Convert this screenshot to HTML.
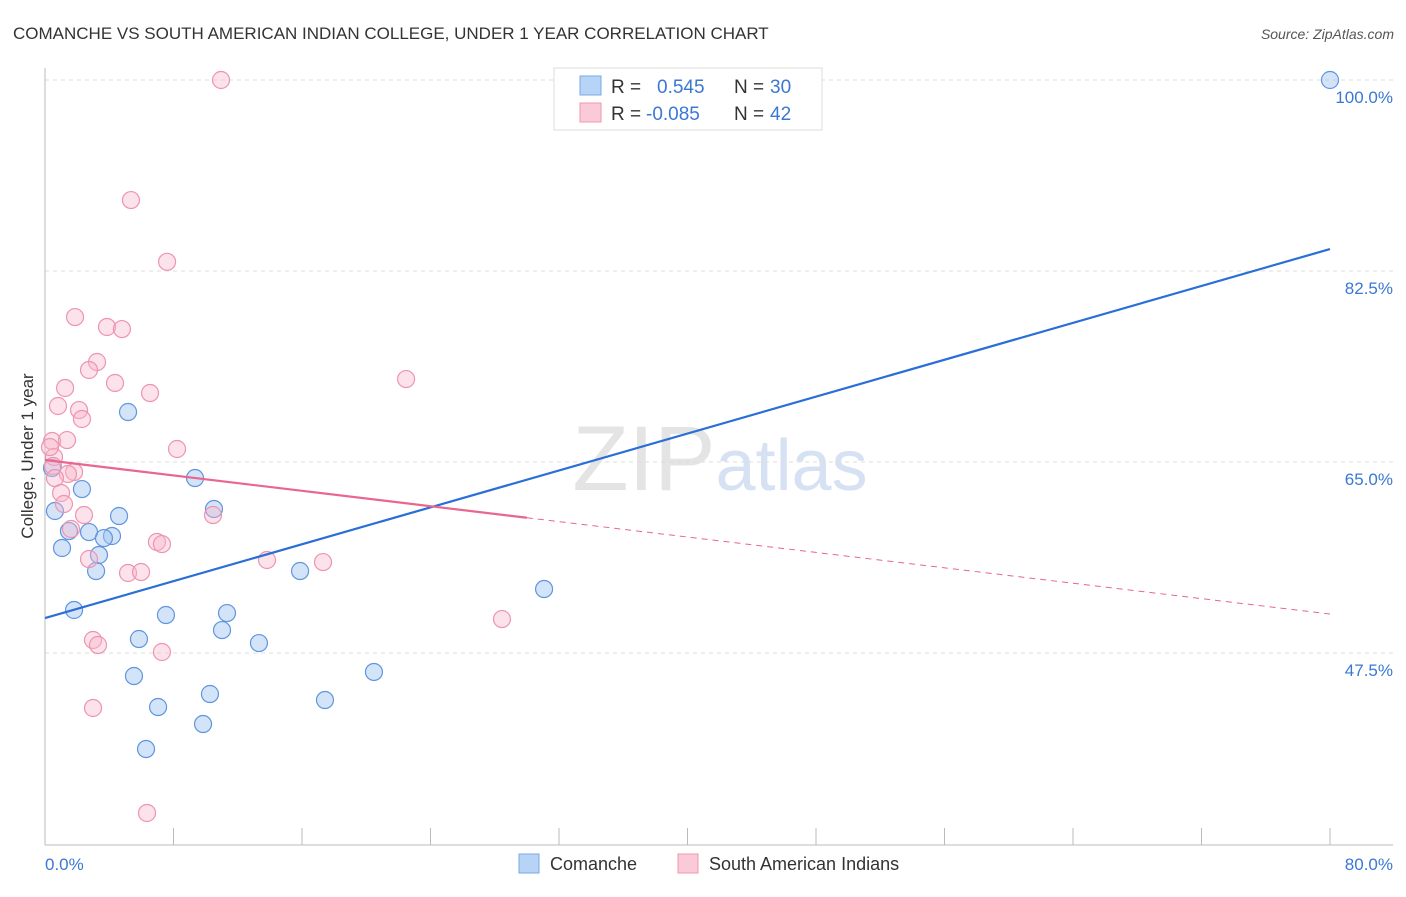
<!DOCTYPE html>
<html><head><meta charset="utf-8"><style>
body{margin:0;background:#fff;font-family:"Liberation Sans",sans-serif}
svg text{font-family:"Liberation Sans",sans-serif}
</style></head><body>
<svg id="chart" width="1406" height="892" xmlns="http://www.w3.org/2000/svg">
<text x="13" y="39" font-size="17" fill="#333">COMANCHE VS SOUTH AMERICAN INDIAN COLLEGE, UNDER 1 YEAR CORRELATION CHART</text>
<text x="1394" y="39" font-size="14" fill="#555" text-anchor="end" font-style="italic">Source: ZipAtlas.com</text>
<text x="720" y="490" font-size="92" fill="#e4e4e4" text-anchor="middle" font-family="Liberation Serif"><tspan>ZIP</tspan><tspan fill="#d6e2f3" font-family="Liberation Sans" font-size="72">atlas</tspan></text>
<g id="grid"></g>
<g id="axes"></g>
<g id="points"></g>
<g id="trends"></g>
<text transform="translate(33,456) rotate(-90)" font-size="17" fill="#333" text-anchor="middle">College, Under 1 year</text>
<text x="45" y="870" font-size="17" fill="#3a78d4">0.0%</text>
<text x="1393" y="870" font-size="17" fill="#3a78d4" text-anchor="end">80.0%</text>
<g>
<rect x="554" y="68" width="268" height="62" fill="#fff" stroke="#ddd"/>
<rect x="580" y="76" width="21" height="19" fill="#b7d3f5" stroke="#7aa8e6"/>
<rect x="580" y="103" width="21" height="19" fill="#fbcad8" stroke="#f096b2"/>
<text x="611" y="93" font-size="19" fill="#333">R =</text>
<text x="657" y="93" font-size="19" fill="#3a78d4">0.545</text>
<text x="734" y="93" font-size="19" fill="#333">N =</text>
<text x="770" y="93" font-size="19" fill="#3a78d4">30</text>
<text x="611" y="120" font-size="19" fill="#333">R =</text>
<text x="646" y="120" font-size="19" fill="#3a78d4">-0.085</text>
<text x="734" y="120" font-size="19" fill="#333">N =</text>
<text x="770" y="120" font-size="19" fill="#3a78d4">42</text>
</g>
<g>
<rect x="519" y="854" width="20" height="19" fill="#b7d3f5" stroke="#7aa8e6"/>
<text x="550" y="870" font-size="18" fill="#333">Comanche</text>
<rect x="678" y="854" width="20" height="19" fill="#fbcad8" stroke="#f096b2"/>
<text x="709" y="870" font-size="18" fill="#333">South American Indians</text>
</g>
</svg>
<script>
const yTicks=[100,82.5,65,47.5];
const yTickLabels=["100.0%","82.5%","65.0%","47.5%"];
const xTicks=[0,8,16,24,32,40,48,56,64,72,80];
const comancheX=[80,5.17,9.34,2.30,0.62,10.52,4.61,1.49,2.74,4.17,3.67,1.06,3.36,3.18,15.88,31.07,1.81,7.53,11.33,11.02,5.85,13.32,20.48,5.54,10.27,17.43,7.04,9.84,6.29,0.44];
const comancheY=[100,69.58,63.53,62.52,60.51,60.69,60.05,58.67,58.58,58.22,58.03,57.12,56.48,55.01,55.01,53.36,51.44,50.98,51.16,49.60,48.78,48.41,45.76,45.39,43.74,43.19,42.55,40.99,38.70,64.45];
const saiX=[10.96,5.35,7.60,1.87,3.86,4.79,3.24,2.74,4.36,1.25,6.54,22.48,0.81,2.12,2.30,0.44,1.37,8.22,0.56,0.50,1.81,1.43,0.62,1.00,1.18,2.43,10.46,1.62,6.97,7.28,2.74,13.82,17.31,5.17,5.98,28.45,2.99,3.30,7.28,2.99,6.35,0.31];
const saiY=[100,89.0,83.34,78.28,77.37,77.18,74.16,73.43,72.24,71.78,71.32,72.60,70.13,69.76,68.94,66.92,67.01,66.19,65.46,64.63,64.08,63.90,63.53,62.16,61.15,60.14,60.14,58.86,57.67,57.48,56.11,56.02,55.83,54.83,54.92,50.61,48.69,48.23,47.59,42.46,32.84,66.37];
const comancheTrend=[50.70,84.51];
const saiTrend=[65.18,51.07];
const saiSolidEnd=30;

const NS="http://www.w3.org/2000/svg";
const X=v=>45+v/80*1285;
const Y=v=>80+(100-v)/100*1091.4;
function mk(tag,attrs,parent){const e=document.createElementNS(NS,tag);for(const k in attrs)e.setAttribute(k,attrs[k]);parent.appendChild(e);return e;}
const grid=document.getElementById('grid'),axes=document.getElementById('axes'),pts=document.getElementById('points'),tr=document.getElementById('trends');
yTicks.forEach((t,i)=>{
 const l=mk('line',{x1:45,x2:1393,y1:Y(t),y2:Y(t),stroke:'#ddd','stroke-dasharray':'4,4'},grid);
 
 
 const tx=mk('text',{x:1393,y:Y(t)+23,'font-size':17,fill:'#3a78d4','text-anchor':'end'},grid);
 tx.textContent=yTickLabels[i];
 
 
});
const ax=mk('line',{x1:45,x2:45,y1:68,y2:845,stroke:'#bbb'},axes);


const bx=mk('line',{x1:45,x2:1393,y1:845,y2:845,stroke:'#bbb'},axes);


xTicks.forEach(t=>{
 const l=mk('line',{x1:X(t),x2:X(t),y1:828,y2:845,stroke:'#bbb'},axes);
 
 
});
comancheX.forEach((v,i)=>{
 const c=mk('circle',{cx:X(v),cy:Y(comancheY[i]),r:8.5,fill:'rgba(160,196,240,0.45)',stroke:'#5f95df','stroke-width':1.2},pts);
 
 
});
saiX.forEach((v,i)=>{
 const c=mk('circle',{cx:X(v),cy:Y(saiY[i]),r:8.5,fill:'rgba(248,182,202,0.4)',stroke:'#ee94b0','stroke-width':1.2},pts);
 
 
});
const bl=mk('line',{x1:X(0),y1:Y(comancheTrend[0]),x2:X(80),y2:Y(comancheTrend[1]),stroke:'#2a6fd6','stroke-width':2.2},tr);


const sy=x=>saiTrend[0]+(saiTrend[1]-saiTrend[0])*x/80;
const pl=mk('line',{x1:X(0),y1:Y(sy(0)),x2:X(saiSolidEnd),y2:Y(sy(saiSolidEnd)),stroke:'#e8668f','stroke-width':2.2},tr);


const pd=mk('line',{x1:X(saiSolidEnd),y1:Y(sy(saiSolidEnd)),x2:X(80),y2:Y(sy(80)),stroke:'#e8668f','stroke-width':1,'stroke-dasharray':'6,5'},tr);


</script>
</body></html>
